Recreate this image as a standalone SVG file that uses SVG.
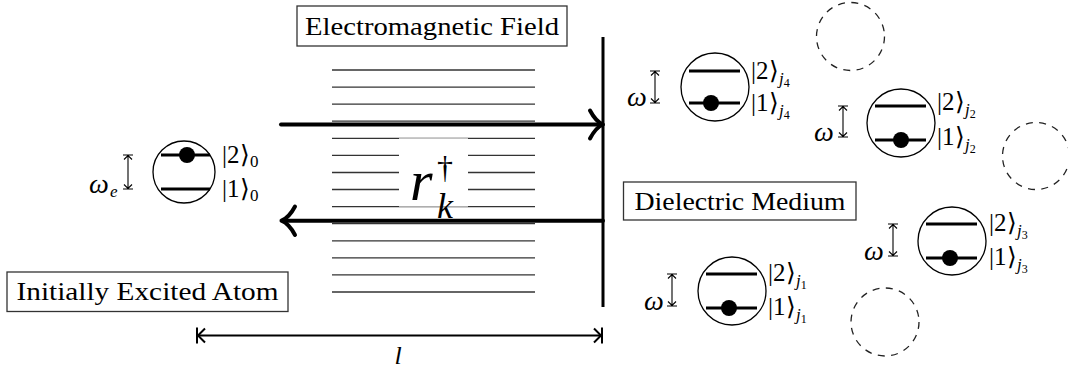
<svg xmlns="http://www.w3.org/2000/svg" width="1068" height="368" viewBox="0 0 1068 368">
<g id="field-lines" stroke="#333" stroke-width="1.3">
<line x1="332" y1="70" x2="535" y2="70"/>
<line x1="332" y1="87.1" x2="535" y2="87.1"/>
<line x1="332" y1="104.2" x2="535" y2="104.2"/>
<line x1="332" y1="121.2" x2="535" y2="121.2"/>
<line x1="332" y1="138.3" x2="535" y2="138.3"/>
<line x1="332" y1="155.4" x2="535" y2="155.4"/>
<line x1="332" y1="172.5" x2="535" y2="172.5"/>
<line x1="332" y1="189.5" x2="535" y2="189.5"/>
<line x1="332" y1="206.6" x2="535" y2="206.6"/>
<line x1="332" y1="223.7" x2="535" y2="223.7"/>
<line x1="332" y1="240.8" x2="535" y2="240.8"/>
<line x1="332" y1="257.8" x2="535" y2="257.8"/>
<line x1="332" y1="274.9" x2="535" y2="274.9"/>
<line x1="332" y1="292" x2="535" y2="292"/>
</g>

<g id="r-label">
<rect x="399" y="138.3" width="69" height="68.3" fill="#fff"/>
<text font-family="'Liberation Serif', serif" font-style="italic" x="410" y="200" font-size="58">r</text>
<text font-family="'Liberation Serif', serif" x="445" y="178" font-size="32" text-anchor="middle">†</text>
<text font-family="'Liberation Serif', serif" font-style="italic" x="445" y="218" font-size="36" text-anchor="middle">k</text>
</g>

<g id="em-field">
<rect x="297" y="6" width="270" height="40" fill="#fff" stroke="#333" stroke-width="1.3"/>
<text font-family="'Liberation Serif', serif" font-size="26" x="432" y="34.5" text-anchor="middle" textLength="254" lengthAdjust="spacingAndGlyphs">Electromagnetic Field</text>
</g>

<g id="initial-label">
<rect x="7" y="272" width="281" height="39.5" fill="#fff" stroke="#333" stroke-width="1.3"/>
<text font-family="'Liberation Serif', serif" font-size="26" x="147.5" y="300" text-anchor="middle" textLength="262" lengthAdjust="spacingAndGlyphs">Initially Excited Atom</text>
</g>

<g id="dielectric-label">
<rect x="623.5" y="182" width="232.5" height="38" fill="#fff" stroke="#333" stroke-width="1.3"/>
<text font-family="'Liberation Serif', serif" font-size="26" x="740" y="209.5" text-anchor="middle" textLength="211" lengthAdjust="spacingAndGlyphs">Dielectric Medium</text>
</g>

<g id="wall">
<line x1="603" y1="37" x2="603" y2="307" stroke="#000" stroke-width="3"/>
</g>

<g id="connectors">
<g fill="none" stroke="#000" stroke-width="4" stroke-linecap="round" stroke-linejoin="round">
<line x1="281" y1="124.5" x2="601" y2="124.5"/>
<path d="M590 110.5 C594 118 598 122.5 603 124.5 C598 126.5 594 131 590 138.5"/>
<line x1="283" y1="220.7" x2="603" y2="220.7"/>
<path d="M295 206.5 C291 214 286.5 218.7 281.5 220.7 C286.5 222.7 291 227.5 295 235"/>
</g>
<g id="dimension-l" fill="none" stroke="#000" stroke-width="2">
<line x1="197" y1="335.5" x2="602" y2="335.5"/>
<line x1="197" y1="327.5" x2="197" y2="343.5"/>
<line x1="602" y1="327.5" x2="602" y2="343.5"/>
<path d="M205 328.5 Q200 333.5 198 335.5 Q200 337.5 205 342.5"/>
<path d="M594 328.5 Q599 333.5 601 335.5 Q599 337.5 594 342.5"/>
</g>
<text font-family="'Liberation Serif', serif" font-style="italic" x="398" y="364" font-size="26" text-anchor="middle">l</text>
</g>

<g id="atom-0">
<circle cx="184" cy="172" r="31" fill="none" stroke="#000" stroke-width="1.3"/>
<g stroke="#000" stroke-width="3">
<line x1="161" y1="155" x2="210" y2="155"/>
<line x1="161" y1="189" x2="210" y2="189"/>
</g>
<circle cx="187" cy="155" r="8" fill="#000"/>
<path fill="none" stroke="#000" stroke-width="1.1" d="M123 155H133M128 155V189M123 189H133M124 159.5L128 155.6L132 159.5M124 184.5L128 188.4L132 184.5"/>
<text font-family="'Liberation Serif', serif" font-style="italic" x="89" y="193" font-size="28">ω</text>
<text font-family="'Liberation Serif', serif" font-style="italic" font-size="17" x="110" y="197">e</text>
<text font-family="'Liberation Serif', serif" font-size="25" x="222" y="163">|2⟩</text>
<text font-family="'Liberation Serif', serif" font-size="17" x="250" y="167">0</text>
<text font-family="'Liberation Serif', serif" font-size="25" x="222" y="197">|1⟩</text>
<text font-family="'Liberation Serif', serif" font-size="17" x="250" y="201">0</text>
</g>

<g id="atom-j4">
<circle cx="715" cy="87" r="34" fill="none" stroke="#000" stroke-width="1.3"/>
<g stroke="#000" stroke-width="3">
<line x1="689" y1="71" x2="740" y2="71"/>
<line x1="689" y1="103" x2="740" y2="103"/>
</g>
<circle cx="711" cy="103" r="8" fill="#000"/>
<path fill="none" stroke="#000" stroke-width="1.1" d="M650 71H660M655 71V103M650 103H660M651 75.5L655 71.6L659 75.5M651 98.5L655 102.4L659 98.5"/>
<text font-family="'Liberation Serif', serif" font-style="italic" x="627" y="106" font-size="28">ω</text>
<text font-family="'Liberation Serif', serif" font-size="25" x="751" y="79">|2⟩</text>
<text font-family="'Liberation Serif', serif" font-style="italic" font-size="17" x="779" y="84">j<tspan font-size="12" font-style="normal" dy="3">4</tspan></text>
<text font-family="'Liberation Serif', serif" font-size="25" x="751" y="111">|1⟩</text>
<text font-family="'Liberation Serif', serif" font-style="italic" font-size="17" x="779" y="116">j<tspan font-size="12" font-style="normal" dy="3">4</tspan></text>
</g>

<g id="atom-j2">
<circle cx="901" cy="123" r="34" fill="none" stroke="#000" stroke-width="1.3"/>
<g stroke="#000" stroke-width="3">
<line x1="875" y1="106" x2="926" y2="106"/>
<line x1="875" y1="140" x2="926" y2="140"/>
</g>
<circle cx="901" cy="140" r="8" fill="#000"/>
<path fill="none" stroke="#000" stroke-width="1.1" d="M838 106H848M843 106V137M838 137H848M839 110.5L843 106.6L847 110.5M839 132.5L843 136.4L847 132.5"/>
<text font-family="'Liberation Serif', serif" font-style="italic" x="814" y="141" font-size="28">ω</text>
<text font-family="'Liberation Serif', serif" font-size="25" x="937" y="110">|2⟩</text>
<text font-family="'Liberation Serif', serif" font-style="italic" font-size="17" x="965" y="115">j<tspan font-size="12" font-style="normal" dy="3">2</tspan></text>
<text font-family="'Liberation Serif', serif" font-size="25" x="937" y="145">|1⟩</text>
<text font-family="'Liberation Serif', serif" font-style="italic" font-size="17" x="965" y="150">j<tspan font-size="12" font-style="normal" dy="3">2</tspan></text>
</g>

<g id="atom-j1">
<circle cx="732" cy="291" r="34" fill="none" stroke="#000" stroke-width="1.3"/>
<g stroke="#000" stroke-width="3">
<line x1="706" y1="274" x2="757" y2="274"/>
<line x1="706" y1="308" x2="757" y2="308"/>
</g>
<circle cx="729" cy="308" r="8" fill="#000"/>
<path fill="none" stroke="#000" stroke-width="1.1" d="M667 274H677M672 274V306M667 306H677M668 278.5L672 274.6L676 278.5M668 301.5L672 305.4L676 301.5"/>
<text font-family="'Liberation Serif', serif" font-style="italic" x="644" y="310" font-size="28">ω</text>
<text font-family="'Liberation Serif', serif" font-size="25" x="768" y="281">|2⟩</text>
<text font-family="'Liberation Serif', serif" font-style="italic" font-size="17" x="796" y="286">j<tspan font-size="12" font-style="normal" dy="3">1</tspan></text>
<text font-family="'Liberation Serif', serif" font-size="25" x="768" y="315">|1⟩</text>
<text font-family="'Liberation Serif', serif" font-style="italic" font-size="17" x="796" y="320">j<tspan font-size="12" font-style="normal" dy="3">1</tspan></text>
</g>

<g id="atom-j3">
<circle cx="952" cy="241" r="34" fill="none" stroke="#000" stroke-width="1.3"/>
<g stroke="#000" stroke-width="3">
<line x1="926" y1="224" x2="977" y2="224"/>
<line x1="926" y1="258" x2="977" y2="258"/>
</g>
<circle cx="950" cy="258" r="8" fill="#000"/>
<path fill="none" stroke="#000" stroke-width="1.1" d="M888 224H898M893 224V256M888 256H898M889 228.5L893 224.6L897 228.5M889 251.5L893 255.4L897 251.5"/>
<text font-family="'Liberation Serif', serif" font-style="italic" x="864" y="260" font-size="28">ω</text>
<text font-family="'Liberation Serif', serif" font-size="25" x="989" y="231">|2⟩</text>
<text font-family="'Liberation Serif', serif" font-style="italic" font-size="17" x="1017" y="236">j<tspan font-size="12" font-style="normal" dy="3">3</tspan></text>
<text font-family="'Liberation Serif', serif" font-size="25" x="989" y="265">|1⟩</text>
<text font-family="'Liberation Serif', serif" font-style="italic" font-size="17" x="1017" y="270">j<tspan font-size="12" font-style="normal" dy="3">3</tspan></text>
</g>

<g id="empty-sites" fill="none" stroke="#222" stroke-width="1.3" stroke-dasharray="7 6.4">
<circle cx="850.5" cy="36.5" r="34"/>
<circle cx="1036" cy="156" r="33.5"/>
<circle cx="885" cy="322" r="34"/>
</g>
</svg>
